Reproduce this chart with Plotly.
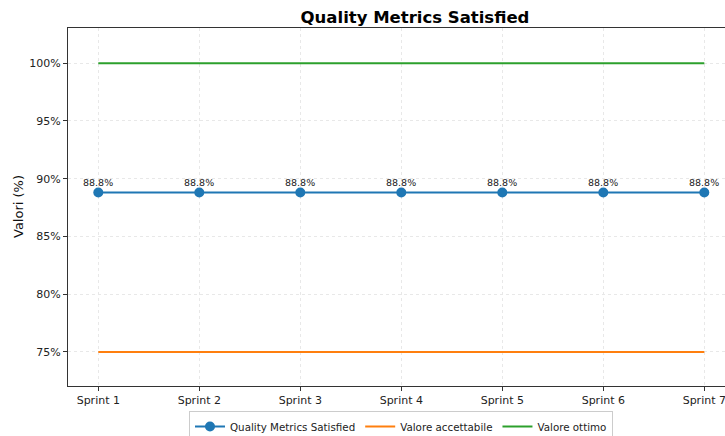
import plotly.graph_objects as go

sprints = ["Sprint 1", "Sprint 2", "Sprint 3", "Sprint 4", "Sprint 5", "Sprint 6", "Sprint 7"]
quality = [88.8, 88.8, 88.8, 88.8, 88.8, 88.8, 88.8]
accettabile = [75, 75, 75, 75, 75, 75, 75]
ottimo = [100, 100, 100, 100, 100, 100, 100]
y_ticks = [75, 80, 85, 90, 95, 100]

blue, orange, green = "#1f77b4", "#ff7f0e", "#2ca02c"
xs = list(range(len(sprints)))

fig = go.Figure()
fig.add_trace(go.Scatter(x=xs, y=quality, name="Quality Metrics Satisfied", mode="lines+markers",
                         line=dict(color=blue, width=2), marker=dict(size=10, color=blue)))
fig.add_trace(go.Scatter(x=xs, y=accettabile, name="Valore accettabile", mode="lines",
                         line=dict(color=orange, width=2)))
fig.add_trace(go.Scatter(x=xs, y=ottimo, name="Valore ottimo", mode="lines",
                         line=dict(color=green, width=2)))

for x, v in zip(xs, quality):
    fig.add_annotation(x=x, y=v, text=f"{v:.1f}%", showarrow=False, yshift=10,
                       font=dict(size=9.5, color="#222"))

# y axis title as an annotation so it sits where the reference has it
fig.add_annotation(xref="paper", yref="paper", x=0, y=0.5, xshift=-50, xanchor="center",
                   yanchor="middle", text="Valori (%)", textangle=-90, showarrow=False,
                   font=dict(size=13, color="#111"))

fig.update_layout(
    width=725, height=436,
    margin=dict(l=68, r=0, t=28, b=50, autoexpand=False),
    paper_bgcolor="white", plot_bgcolor="white",
    font=dict(family="DejaVu Sans", size=11, color="#222"),
    title=dict(text="<b>Quality Metrics Satisfied</b>", x=415 / 725, xanchor="center",
               y=1 - 17 / 436, yanchor="middle", xref="container", yref="container",
               font=dict(size=16.5, color="black"), automargin=False),
    legend=dict(orientation="h", xref="container", yref="container", x=401 / 725, xanchor="center",
                y=1 - 411 / 436, yanchor="top", bordercolor="#cccccc", borderwidth=1,
                font=dict(size=10.3), itemwidth=30, tracegroupgap=0),
    showlegend=True,
)
fig.update_xaxes(range=[-0.3, 6.205], tickvals=xs, ticktext=sprints, showline=True, mirror=True,
                 linecolor="#333", linewidth=1, ticks="outside", ticklen=4, tickcolor="#333",
                 showgrid=True, gridcolor="#e8e8e8", griddash="3px,3px", zeroline=False,
                 automargin=False, ticklabeloverflow="allow")
fig.update_yaxes(range=[72.05, 103.05], tickvals=y_ticks, ticktext=[f"{t}%" for t in y_ticks],
                 showline=True, linecolor="#333", linewidth=1, ticks="outside", ticklen=4,
                 tickcolor="#333", showgrid=True, gridcolor="#e8e8e8", griddash="3px,3px", zeroline=False,
                 automargin=False)

# the page body has a default 8px margin, drop it so the figure fills the window
fig.write_html("out.html", config={"displayModeBar": False},
               post_script="document.body.style.margin='0';document.body.style.overflow='hidden';")
